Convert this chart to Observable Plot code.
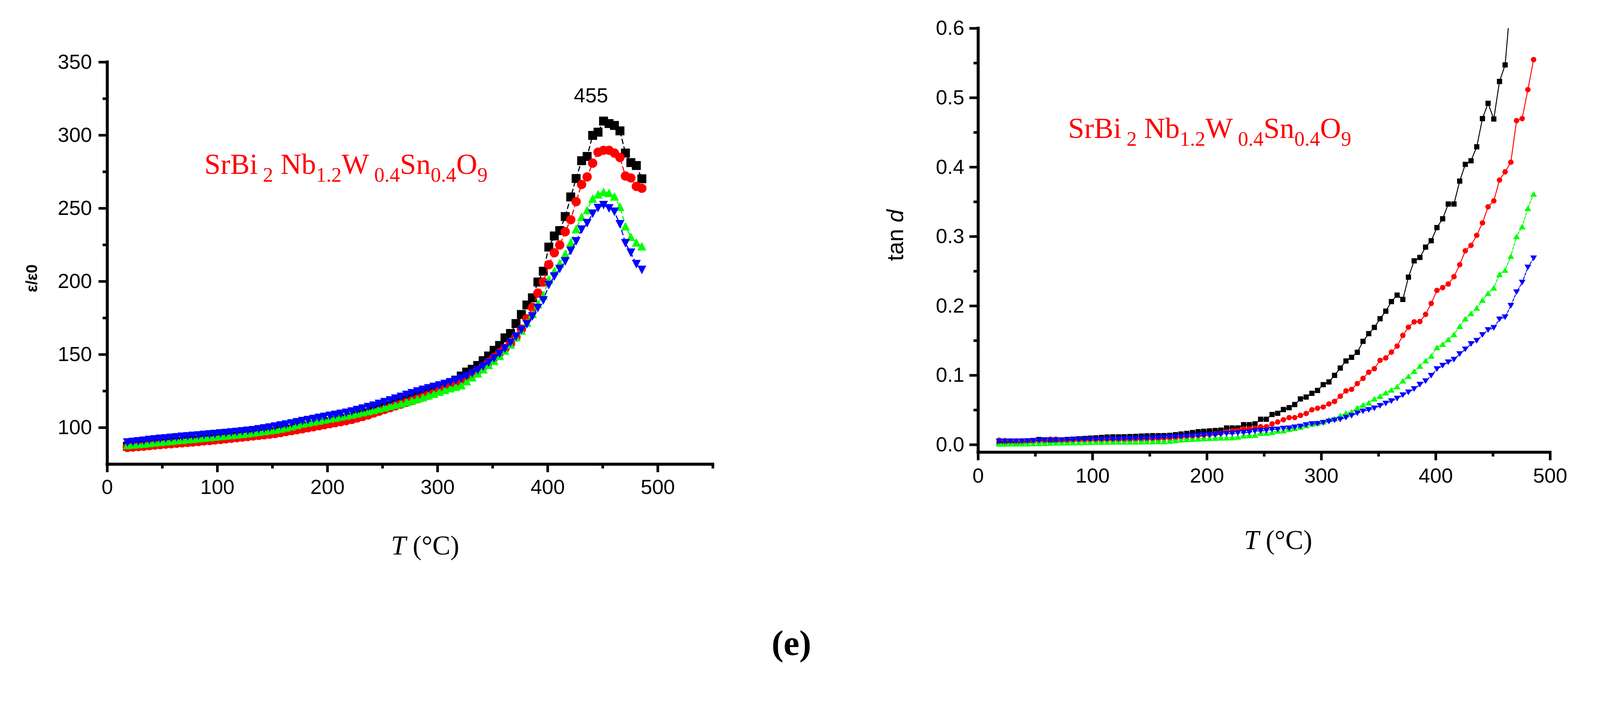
<!DOCTYPE html>
<html><head><meta charset="utf-8">
<script src="https://cdn.jsdelivr.net/npm/d3@7"></script>
<script src="https://cdn.jsdelivr.net/npm/@observablehq/plot@0.6"></script>
<style>
html,body{margin:0;padding:0;background:#fff;overflow:hidden;}
#page{position:relative;width:4288px;height:1822px;background:#fff;overflow:hidden;transform-origin:0 0;}
#left{position:absolute;left:0;top:0;}
#right{position:absolute;left:2144px;top:0;}
#left svg,#right svg{max-width:none;}
#cap{position:absolute;left:0;width:4242px;top:1675px;text-align:center;font:bold 96px "Liberation Serif","Times New Roman",serif;line-height:1;color:#000;}
</style></head><body>
<div id="page"><div id="left"></div><div id="right"></div><div id="cap">(<span>e</span>)</div></div>
<script>
// ---------- data ----------
const temps = [18.3,23.3,28.2,33.2,38.2,43.2,48.1,53.1,58.1,63.0,
68.0,73.0,77.9,82.9,87.9,92.9,97.8,102.8,107.8,112.7,
117.7,122.7,127.6,132.6,137.6,142.6,147.5,152.5,157.5,162.4,
167.4,172.4,177.3,182.3,187.3,192.3,197.2,202.2,207.2,212.1,
217.1,222.1,227.0,232.0,237.0,242.0,246.9,251.9,256.9,261.8,
266.8,271.8,276.7,281.7,286.7,291.7,296.6,301.6,306.6,311.5,
316.5,321.5,326.4,331.4,336.4,341.4,346.3,351.3,356.3,361.2,
366.2,371.2,376.1,381.1,386.1,391.1,396.0,401.0,406.0,410.9,
415.9,420.9,425.8,430.8,435.8,440.8,445.7,450.7,455.7,460.6,
465.6,470.6,475.5,480.5,485.5];

// permittivity eps/eps0
const epsBlack = [87.3,87.6,87.9,88.2,88.6,89.0,89.3,89.6,89.9,90.2,
90.5,90.8,91.1,91.4,91.8,92.1,92.5,92.8,93.2,93.6,
94.0,94.4,94.8,95.2,95.6,96.0,96.5,97.0,97.6,98.3,
99.0,99.7,100.4,101.1,101.8,102.5,103.2,104.0,104.7,105.4,
106.2,107.0,108.0,109.0,110.1,111.3,112.5,113.7,115.0,116.3,
117.6,118.9,120.1,121.3,122.5,123.8,125.1,126.6,128.2,130.0,
132.5,135.3,138.0,139.9,142.5,145.8,149.0,152.9,156.2,161.4,
164.4,171.2,177.4,183.9,188.8,199.6,207.0,223.5,231.1,234.8,
244.4,257.8,270.4,282.6,285.5,299.9,302.1,309.7,308.0,306.7,
303.0,287.8,281.3,279.3,270.2];
const epsRed = [86.4,86.7,87.0,87.3,87.7,88.1,88.4,88.7,89.0,89.3,
89.6,89.9,90.2,90.5,90.9,91.2,91.6,91.9,92.3,92.7,
93.1,93.5,93.9,94.3,94.7,95.1,95.5,96.0,96.6,97.3,
97.9,98.6,99.2,99.9,100.6,101.3,102.0,102.7,103.4,104.1,
104.8,105.6,106.6,107.6,108.7,110.0,111.2,112.4,113.6,114.9,
116.1,117.3,118.5,119.7,120.9,122.2,123.5,125.0,126.5,128.0,
129.8,131.8,134.0,136.5,139.0,141.8,144.8,148.0,151.2,154.2,
157.5,162.0,167.3,174.4,182.2,192.0,199.6,211.5,219.6,224.9,
234.0,242.2,254.6,266.3,271.5,280.9,288.4,289.7,289.7,287.8,
284.8,272.1,270.8,265.0,263.7];
const epsGreen = [88.2,88.5,88.8,89.1,89.5,89.9,90.3,90.7,91.0,91.4,
91.7,92.1,92.4,92.8,93.2,93.5,93.9,94.3,94.7,95.0,
95.4,95.8,96.2,96.7,97.2,97.7,98.2,98.7,99.4,100.2,
101.0,101.9,102.8,103.5,104.2,104.9,105.6,106.3,106.9,107.6,
108.3,109.0,109.8,110.6,111.4,112.2,113.1,114.0,114.9,115.7,
116.6,117.6,118.6,119.7,120.9,122.1,123.3,124.6,125.9,127.0,
128.0,129.1,131.8,134.5,137.2,140.0,143.0,145.8,149.2,152.8,
156.9,162.0,166.5,171.9,177.8,184.6,190.5,201.3,207.2,212.4,
218.9,226.8,235.9,244.3,248.9,256.7,259.6,261.3,260.6,258.2,
251.1,237.8,230.6,226.7,224.1];
const epsBlue = [89.8,90.2,90.6,91.0,91.5,91.9,92.3,92.6,93.0,93.3,
93.7,94.0,94.3,94.6,95.0,95.3,95.6,96.0,96.3,96.7,
97.0,97.4,97.8,98.2,98.8,99.4,100.0,100.7,101.4,102.1,
102.8,103.6,104.4,105.1,105.8,106.6,107.3,108.0,108.7,109.4,
110.1,111.0,112.0,113.0,114.0,115.0,116.2,117.4,118.6,119.8,
121.0,122.3,123.5,124.7,125.8,126.8,127.8,128.8,129.8,131.0,
132.3,133.6,135.2,137.2,139.4,141.8,144.4,147.3,150.5,154.0,
158.0,162.3,166.8,170.7,176.0,181.8,187.0,197.5,203.3,208.5,
213.7,220.9,227.4,235.4,239.8,246.3,250.2,252.2,250.0,247.6,
239.1,226.1,219.6,211.8,207.9];

// loss tangent
const tanBlack = [0.004,0.003,0.005,0.002,0.004,0.005,0.006,0.0075,0.007,0.006,
0.0065,0.007,0.0075,0.008,0.0085,0.009,0.0095,0.010,0.0105,0.011,
0.0113,0.0114,0.0115,0.0117,0.012,0.0125,0.0128,0.013,0.013,0.0132,
0.0135,0.0145,0.0154,0.0162,0.0175,0.0188,0.0194,0.0199,0.0205,0.0211,
0.0242,0.0242,0.0242,0.0289,0.0289,0.0301,0.0367,0.0367,0.0436,0.0453,
0.0507,0.0534,0.0579,0.0660,0.0687,0.0741,0.0782,0.0866,0.0905,0.1000,
0.1105,0.1207,0.1260,0.1332,0.1490,0.1601,0.1691,0.1816,0.1925,0.2063,
0.2156,0.2094,0.2415,0.2650,0.2699,0.2848,0.2940,0.3129,0.3256,0.3469,
0.3469,0.3799,0.4040,0.4092,0.4293,0.4700,0.4920,0.4694,0.5235,0.5473,
0.643,null,null,null,null];
const tanRed = [0.0066,0.006,0.0055,0.0055,0.0055,0.0056,0.0057,0.0058,0.006,0.0079,
0.0079,0.0062,0.0063,0.0064,0.0065,0.0066,0.0067,0.0068,0.0069,0.007,
0.0071,0.0072,0.0073,0.0074,0.0076,0.0078,0.008,0.0083,0.0086,0.009,
0.0095,0.010,0.0108,0.0115,0.0122,0.013,0.0138,0.0146,0.0155,0.0165,
0.0185,0.0203,0.0206,0.0230,0.0230,0.0238,0.0260,0.0260,0.0301,0.0328,
0.0360,0.0391,0.0391,0.0423,0.0450,0.0504,0.0526,0.0543,0.0588,0.0624,
0.0699,0.0776,0.0798,0.0881,0.0956,0.1045,0.1096,0.1216,0.1251,0.1335,
0.1421,0.1576,0.1693,0.1770,0.1776,0.1878,0.2036,0.2224,0.2264,0.2316,
0.2422,0.2594,0.2795,0.2873,0.3018,0.3197,0.3428,0.3515,0.3814,0.3932,
0.4071,0.4670,0.4700,0.5117,0.5550];
const tanGreen = [0.0013,0.0013,0.0014,0.0014,0.0015,0.0016,0.0018,0.002,0.0022,0.0025,
0.0028,0.003,0.0031,0.0032,0.0033,0.0035,0.0037,0.0039,0.004,0.0041,
0.0041,0.0042,0.0042,0.0043,0.0043,0.0044,0.0045,0.0046,0.0047,0.0048,
0.0054,0.0062,0.0072,0.0078,0.0082,0.0086,0.009,0.0094,0.0097,0.0100,
0.0102,0.0104,0.0113,0.0129,0.0134,0.0140,0.0167,0.0170,0.0181,0.0199,
0.0203,0.0224,0.0238,0.0257,0.0278,0.0301,0.0314,0.0332,0.0362,0.0377,
0.0421,0.0457,0.0475,0.0534,0.0574,0.0606,0.0663,0.0700,0.0751,0.0791,
0.0839,0.0922,0.0988,0.1060,0.1135,0.1212,0.1280,0.1403,0.1450,0.1518,
0.1591,0.1708,0.1817,0.1894,0.1971,0.2085,0.2184,0.2261,0.2456,0.2517,
0.2718,0.3002,0.3144,0.3407,0.3614];
const tanBlue = [0.0047,0.0047,0.0048,0.0049,0.005,0.0053,0.0057,0.0061,0.0064,0.0065,
0.0066,0.0067,0.0069,0.0071,0.0073,0.0075,0.0077,0.0077,0.0078,0.0079,
0.008,0.0082,0.0085,0.0088,0.009,0.0091,0.0092,0.0095,0.0100,0.0105,
0.0110,0.0113,0.0118,0.0122,0.0126,0.0130,0.0135,0.0140,0.0143,0.0154,
0.0158,0.0161,0.0167,0.0172,0.0179,0.0196,0.0199,0.0203,0.0221,0.0221,
0.0233,0.0237,0.0251,0.0262,0.0284,0.0298,0.0301,0.0316,0.0334,0.0351,
0.0364,0.0391,0.0418,0.0453,0.0481,0.0502,0.0524,0.0561,0.0594,0.0628,
0.0665,0.0714,0.0755,0.0803,0.0866,0.0916,0.0995,0.1090,0.1139,0.1189,
0.1226,0.1307,0.1375,0.1452,0.1498,0.1582,0.1653,0.1684,0.1807,0.1838,
0.2002,0.2199,0.2338,0.2555,0.2687];

// tick values and labels
const xMajorL = [0,100,200,300,400,500];
const xMinorL = [50,150,250,350,450,550];
const yMajorL = [100,150,200,250,300,350];
const yMinorL = [125,175,225,275,325];
const xMajorR = [0,100,200,300,400,500];
const xMinorR = [50,150,250,350,450];
const yMajorR = [0,0.1,0.2,0.3,0.4,0.5,0.6];
const yMinorR = [0.05,0.15,0.25,0.35,0.45,0.55];
const peakLabel = ["455"];
const formulaParts = [["SrBi",0],[" 2",1],[" Nb",0],["1.2",1],["W",0],[" 0.4",1],["Sn",0],["0.4",1],["O",0],["9",1]];
const xTitleParts = [["T",1],[" (°C)",0]];
const yTitleLeft = ["ε/ε0"];
const yTitleRightParts = [["tan ",0],["d",1]];

// ---------- helpers ----------
function rows(vals){ return temps.map((t,i)=>({T:t, v:vals[i]})).filter(d=>d.v!=null); }
function boxSymbol(kind, aspect){
  return {draw(ctx, size){
    const h = Math.sqrt(size)/2, w = h*aspect;
    if (kind==="square"){ ctx.moveTo(-w,-h); ctx.lineTo(w,-h); ctx.lineTo(w,h); ctx.lineTo(-w,h); ctx.closePath(); }
    else if (kind==="up"){ ctx.moveTo(0,-h); ctx.lineTo(w,h); ctx.lineTo(-w,h); ctx.closePath(); }
    else { ctx.moveTo(-w,-h); ctx.lineTo(w,-h); ctx.lineTo(0,h); ctx.closePath(); }
  }};
}
function seriesMarks(list, lineW, clip){
  const out = [];
  for (const s of list){
    const data = rows(s.values);
    out.push(Plot.line(data, {x:"T", y:"v", stroke:s.color, strokeWidth:lineW, strokeDasharray:s.dash, clip}));
    out.push(Plot.dot(data, {x:"T", y:"v", symbol:s.symbol, r:s.r, fill:s.color, stroke:"none", clip}));
  }
  return out;
}
// replace a placeholder text's content by styled tspans (subscripts / italics)
function rich(svg, key, parts, opts){
  d3.select(svg).selectAll("text").filter(function(){ return this.textContent === key; }).each(function(){
    const t = d3.select(this); t.selectAll("*").remove(); t.text(null);
    let shifted = false;
    for (const [txt, flag] of parts){
      const sp = t.append("tspan").text(txt);
      if (opts.sub){
        if (flag){ sp.attr("font-size", opts.subSize); if (!shifted){ sp.attr("dy", opts.shift); shifted = true; } }
        else if (shifted){ sp.attr("dy", -opts.shift); shifted = false; }
      } else if (flag){ sp.attr("font-style","italic"); }
    }
  });
}
const baseStyle = {fontFamily:'"Liberation Sans", Arial, sans-serif', fontSize:"55px", color:"#000", background:"#fff", overflow:"visible"};
const serif = '"Liberation Serif","Times New Roman",serif';

// ---------- left: permittivity ----------
const leftSeries = [
  {values:epsBlack, color:"#000000", symbol:boxSymbol("square",1), r:13.5, dash:"12,9"},
  {values:epsRed,   color:"#ff0000", symbol:"circle", r:12.5, dash:"12,9"},
  {values:epsGreen, color:"#00ff00", symbol:boxSymbol("up",1.04), r:13, dash:"12,9"},
  {values:epsBlue,  color:"#0000ff", symbol:boxSymbol("down",1.04), r:13, dash:"12,9"}
];
const leftAnno = {peak:{x:439.3, y:326.9}, formula:{x:88.2, y:280.0}, xtitle:{x:288.7, y:19.05}, ytitle:{x:-68.2, y:202.1}};
const left = Plot.plot({
  width:2144, height:1560, marginLeft:287, marginRight:234, marginTop:166, marginBottom:317,
  x:{domain:[0,550], label:null}, y:{domain:[75,350], label:null},
  style: baseStyle,
  marks:[
    Plot.axisX({ticks:xMajorL, tickSize:22, tickPadding:19, strokeWidth:7, label:null}),
    Plot.axisX({ticks:xMinorL, tickSize:12, strokeWidth:7, tickFormat:()=>"", label:null}),
    Plot.axisY({ticks:yMajorL, tickSize:23, tickPadding:18, strokeWidth:7, label:null}),
    Plot.axisY({ticks:yMinorL, tickSize:12, strokeWidth:7, tickFormat:()=>"", label:null}),
    Plot.ruleX([0], {y1:75, y2:350, strokeWidth:8, strokeLinecap:"square"}),
    Plot.ruleY([75], {x1:0, x2:550, strokeWidth:8, strokeLinecap:"square"}),
    ...seriesMarks(leftSeries, 3, false),
    Plot.text(peakLabel, {x:leftAnno.peak.x, y:leftAnno.peak.y, text:d=>d, textAnchor:"middle", fontSize:55, fill:"#000"}),
    Plot.text(["@formula"], {x:leftAnno.formula.x, y:leftAnno.formula.y, text:d=>d, textAnchor:"start", fontSize:78, fontFamily:serif, fill:"#ff0000"}),
    Plot.text(["@xtitle"], {x:leftAnno.xtitle.x, y:leftAnno.xtitle.y, text:d=>d, textAnchor:"middle", fontSize:72, fontFamily:serif, fill:"#000"}),
    Plot.text(yTitleLeft, {x:leftAnno.ytitle.x, y:leftAnno.ytitle.y, text:d=>d, rotate:-90, textAnchor:"middle", fontSize:42, fontWeight:"bold", fill:"#000"})
  ]
});
rich(left, "@formula", formulaParts, {sub:true, shift:21, subSize:55});
rich(left, "@xtitle", xTitleParts, {sub:false});
document.getElementById("left").appendChild(left);

// ---------- right: loss tangent ----------
const rightSeries = [
  {values:tanBlack, color:"#000000", symbol:boxSymbol("square",1), r:7.9, dash:null},
  {values:tanRed,   color:"#ff0000", symbol:"circle", r:7.3, dash:null},
  {values:tanGreen, color:"#00ff00", symbol:boxSymbol("up",1.2), r:8.5, dash:"7,4"},
  {values:tanBlue,  color:"#0000ff", symbol:boxSymbol("down",1.2), r:8.5, dash:"7,4"}
];
const rightAnno = {formula:{x:78.6, y:0.4554}, xtitle:{x:262.2, y:-0.1377}, ytitle:{x:-72.1, y:0.3018}};
const right = Plot.plot({
  width:2144, height:1560, marginLeft:477, marginRight:134, marginTop:75.5, marginBottom:349,
  x:{domain:[0,500], label:null}, y:{domain:[-0.0108,0.6], label:null},
  style: baseStyle,
  marks:[
    Plot.axisX({ticks:xMajorR, tickSize:22, tickPadding:20, strokeWidth:7, label:null}),
    Plot.axisX({ticks:xMinorR, tickSize:12, strokeWidth:7, tickFormat:()=>"", label:null}),
    Plot.axisY({ticks:yMajorR, tickSize:23, tickPadding:14, strokeWidth:7, tickFormat:".1f", label:null}),
    Plot.axisY({ticks:yMinorR, tickSize:12, strokeWidth:7, tickFormat:()=>"", label:null}),
    Plot.ruleX([0], {y1:-0.0108, y2:0.6, strokeWidth:8, strokeLinecap:"square"}),
    Plot.ruleY([-0.0108], {x1:0, x2:500, strokeWidth:8, strokeLinecap:"square"}),
    ...seriesMarks(rightSeries, 2.5, true),
    Plot.text(["@formula"], {x:rightAnno.formula.x, y:rightAnno.formula.y, text:d=>d, textAnchor:"start", fontSize:78, fontFamily:serif, fill:"#ff0000"}),
    Plot.text(["@xtitle"], {x:rightAnno.xtitle.x, y:rightAnno.xtitle.y, text:d=>d, textAnchor:"middle", fontSize:72, fontFamily:serif, fill:"#000"}),
    Plot.text(["@ytitle"], {x:rightAnno.ytitle.x, y:rightAnno.ytitle.y, text:d=>d, rotate:-90, textAnchor:"middle", fontSize:62, fill:"#000"})
  ]
});
rich(right, "@formula", formulaParts, {sub:true, shift:21, subSize:55});
rich(right, "@xtitle", xTitleParts, {sub:false});
rich(right, "@ytitle", yTitleRightParts, {sub:false});
document.getElementById("right").appendChild(right);

// fit the 4288x1822 layout to the actual viewport
function fit(){
  const vw = document.documentElement.clientWidth || window.innerWidth;
  const vh = document.documentElement.clientHeight || window.innerHeight;
  const k = Math.min(vw/4288, vh/1822);
  document.getElementById("page").style.transform = (Math.abs(k-1) > 0.002) ? `scale(${k})` : "";
}
fit();
window.addEventListener("resize", fit);
</script></body></html>
